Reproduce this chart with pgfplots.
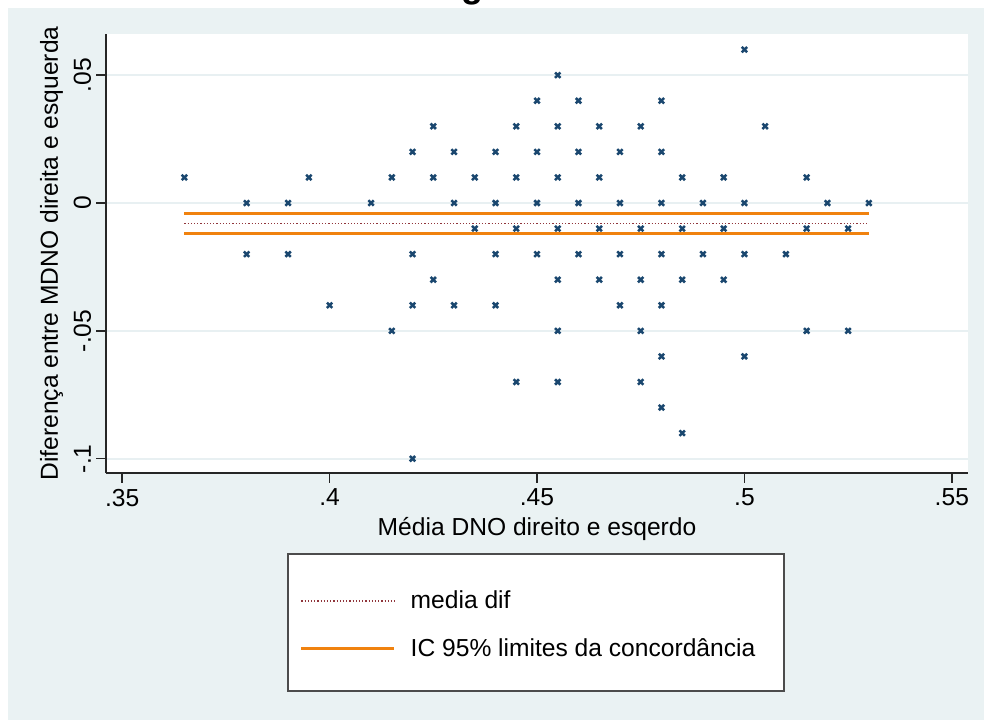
\documentclass[border=0pt]{standalone}
\usepackage{fontspec}
\setmainfont{Liberation Sans}
\usepackage{pgfplots}
\pgfplotsset{compat=1.18}
\definecolor{stbg}{RGB}{234,242,243}
\definecolor{stnavy}{RGB}{26,71,111}
\definecolor{stmaroon}{RGB}{144,53,59}
\definecolor{storange}{RGB}{240,130,15}
\definecolor{stgrid}{RGB}{232,240,242}
\begin{document}
\begin{tikzpicture}
\useasboundingbox (0,0) rectangle (492pt,360pt);
\fill[stbg] (4pt,0) rectangle (492pt,356pt);
\node[anchor=base, font=\fontsize{18}{20}\selectfont\bfseries, inner sep=0pt] at (236pt,361.5pt) {g};
\draw[fill=white, draw=black!70, line width=0.6pt] (144pt,83pt) rectangle (392pt,14.5pt);
\begin{axis}[
  at={(53pt,123.5pt)}, anchor=south west,
  scale only axis, width=431pt, height=219.5pt,
  font=\fontsize{12.3}{14}\selectfont,
  xmin=0.3461, xmax=0.5539, ymin=-0.1056, ymax=0.0661,
  axis background/.style={fill=white},
  axis lines*=left, axis line style={-, line width=0.7pt, black!85},
  tick align=outside, major tick length=4.8pt,
  tick style={line width=0.7pt, black!85},
  xtick={0.35,0.4,0.45,0.5,0.55},
  xticklabels={.35,.4,.45,.5,.55},
  ytick={-0.1,-0.05,0,0.05},
  yticklabels={-.1,-.05,0,.05},
  yticklabel style={rotate=90, anchor=south, inner sep=2.5pt},
  xticklabel style={inner sep=3pt},
  ymajorgrids, grid style={stgrid, line width=1pt},
  xlabel={Média DNO direito e esqerdo},
  xlabel style={at={(axis description cs:0.5,-0.1412)}, anchor=base, inner sep=0pt},
  ylabel={Diferença entre MDNO direita e esquerda},
  ylabel style={at={(axis description cs:-0.0557,0.5)}, anchor=base, inner sep=0pt},
  legend style={at={(axis description cs:0.2251,-0.2665)}, anchor=north west,
    draw=none, fill=none, inner sep=0pt, outer sep=0pt,
    nodes={inner sep=0pt, text height=9pt, text depth=0pt, anchor=base west},
    row sep=15pt, column sep=7.5pt, font=\fontsize{12.3}{14}\selectfont},
  legend cell align=left,
  legend image code/.code={\draw[#1] (0pt,3.6pt) -- (46.5pt,3.6pt);},
]
\addplot[only marks, mark=x, mark size=1.9pt, stnavy, line width=1.25pt, forget plot] table {
x y
0.365 0.01
0.38 0
0.38 -0.02
0.39 0
0.39 -0.02
0.395 0.01
0.40 -0.04
0.41 0
0.415 0.01
0.415 -0.05
0.42 0.02
0.42 -0.02
0.42 -0.04
0.42 -0.1
0.425 0.03
0.425 0.01
0.425 -0.03
0.43 0.02
0.43 0
0.43 -0.04
0.435 0.01
0.435 -0.01
0.44 0.02
0.44 0
0.44 -0.02
0.44 -0.04
0.445 0.03
0.445 0.01
0.445 -0.01
0.445 -0.07
0.45 0.04
0.45 0.02
0.45 0
0.45 -0.02
0.455 0.05
0.455 0.03
0.455 0.01
0.455 -0.01
0.455 -0.03
0.455 -0.05
0.455 -0.07
0.46 0.04
0.46 0.02
0.46 0
0.46 -0.02
0.465 0.03
0.465 0.01
0.465 -0.01
0.465 -0.03
0.47 0.02
0.47 0
0.47 -0.02
0.47 -0.04
0.475 0.03
0.475 -0.01
0.475 -0.03
0.475 -0.05
0.475 -0.07
0.48 0.04
0.48 0.02
0.48 0
0.48 -0.02
0.48 -0.04
0.48 -0.06
0.48 -0.08
0.485 0.01
0.485 -0.01
0.485 -0.03
0.485 -0.09
0.49 0
0.49 -0.02
0.495 0.01
0.495 -0.01
0.495 -0.03
0.5 0.06
0.5 0
0.5 -0.02
0.5 -0.06
0.505 0.03
0.51 -0.02
0.515 0.01
0.515 -0.01
0.515 -0.05
0.52 0
0.525 -0.01
0.525 -0.05
0.53 0
};
\addplot[stmaroon, line width=0.9pt, dash pattern=on 0.6pt off 1pt] coordinates {(0.365,-0.008) (0.53,-0.008)};
\addlegendentry{media dif}
\addplot[storange, line width=1.35pt] coordinates {(0.365,-0.004) (0.53,-0.004)};
\addlegendentry{IC 95\% limites da concordância}
\addplot[storange, line width=1.35pt, forget plot] coordinates {(0.365,-0.012) (0.53,-0.012)};
\end{axis}
\end{tikzpicture}
\end{document}
